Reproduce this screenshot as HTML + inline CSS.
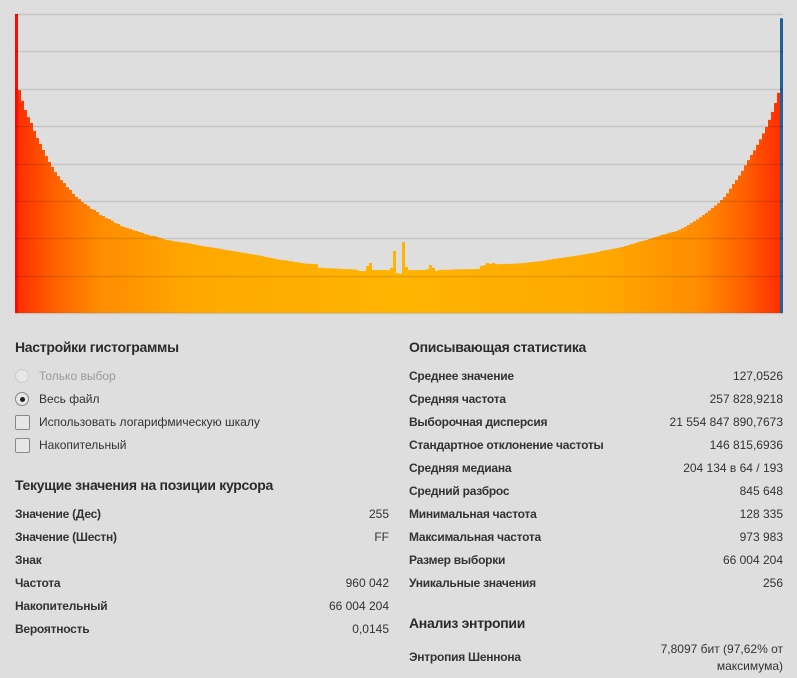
<!DOCTYPE html>
<html><head><meta charset="utf-8">
<style>
body{margin:0;width:797px;height:678px;background:#dedede;font-family:"Liberation Sans","Noto Sans CJK SC",sans-serif;color:#333;position:relative;overflow:hidden}
.t{position:absolute;white-space:nowrap;font-size:12px;line-height:14px}
.h{position:absolute;white-space:nowrap;font-size:14px;font-weight:bold;line-height:16px;color:#2b2b2b;letter-spacing:-0.3px}
.b{font-weight:bold;letter-spacing:-0.25px}
.r{text-align:right}
.radio{position:absolute;width:14px;height:14px;border:1px solid #888;border-radius:50%;box-sizing:border-box;background:#e6e6e6}
.chk{position:absolute;width:15px;height:15px;border:1px solid #888;border-radius:2px;box-sizing:border-box;background:#e6e6e6}
</style></head><body>
<svg id="chart" width="797" height="320" style="position:absolute;left:0;top:0">
<defs><linearGradient id="g" gradientUnits="userSpaceOnUse" x1="15" y1="0" x2="783" y2="0">
<stop offset="0" stop-color="#ff2a00"/><stop offset="0.05" stop-color="#ff6000"/><stop offset="0.11" stop-color="#ff8c00"/><stop offset="0.23" stop-color="#ffa800"/><stop offset="0.5" stop-color="#ffb400"/><stop offset="0.77" stop-color="#ffa800"/><stop offset="0.89" stop-color="#ff8c00"/><stop offset="0.95" stop-color="#ff6000"/><stop offset="1" stop-color="#ff2a00"/></linearGradient></defs>
<g id="bars"></g><g id="grid"></g>
</svg>
<script>
const counts=[974,726,691,661,638,619,593,570,551,531,511,492,476,459,446,433,423,410,401,388,378,371,362,355,349,339,336,329,319,316,309,306,300,293,290,283,280,277,274,270,267,264,261,257,254,251,251,248,244,241,238,237,235,233,232,230,229,228,226,224,222,220,218,217,215,214,212,211,209,207,205,204,202,201,199,197,196,194,192,191,189,187,185,183,181,179,177,175,173,172,171,169,168,166,165,163,161,161,160,160,159,147,147,146,146,145,145,144,144,143,143,143,142,142,138,137,137,153,163,140,140,140,140,140,140,147,202,130,128.335,231,150,140,140,140,140,140,140,143,156,147,137,140,141,141,141,141,142,142,142,142,143,143,143,143,144,153,156,163,160,163,159,159,160,160,160,160,161,161,162,163,164,165,166,167,168,169,171,173,174,176,177,179,180,181,183,184,186,187,189,190,192,194,195,197,199,202,204,205,207,209,211,213,215,218,221,224,227,230,233,235,238,241,244,247,250,254,256,259,262,264,267,271,276,281,287,293,299,305,312,319,326,334,342,350,358,368,378,390,405,420,433,448,463,481,498,515,530,548,566,585,606,629,655,684,717,960.042];
const gridTicks=[0,1,2,3,4,5,6,7,8];
const maxCount=973.983;
const X0=15,BW=3,YB=313,H=299;
function xPos(i){return X0+i*BW}
function yPos(v){return YB-v/maxCount*H}
const NS="http://www.w3.org/2000/svg";
const bars=document.getElementById('bars');
counts.forEach((v,i)=>{const r=document.createElementNS(NS,'rect');
r.setAttribute('x',xPos(i));r.setAttribute('y',yPos(v));r.setAttribute('width',BW);r.setAttribute('height',YB-yPos(v));
r.setAttribute('fill',i===0?'#ff0a00':(i===counts.length-1?'#1f5f9a':'url(#g)'));


bars.appendChild(r);});
const grid=document.getElementById('grid');
gridTicks.forEach(k=>{const y=Math.round(14+k*H/8)+0.5;const l=document.createElementNS(NS,'line');
l.setAttribute('x1',15);l.setAttribute('x2',783);l.setAttribute('y1',y);l.setAttribute('y2',y);
l.setAttribute('stroke','rgba(0,0,0,0.11)');l.setAttribute('stroke-width',1.5);


grid.appendChild(l);});
</script>

<div class="h" style="left:15px;top:339px">Настройки гистограммы</div>
<div class="radio" style="left:15px;top:369px;border-color:#ccc"></div>
<div class="t" style="left:39px;top:369px;color:#9a9a9a">Только выбор</div>
<div class="radio" style="left:15px;top:392px"><div style="position:absolute;left:3.5px;top:3.5px;width:5px;height:5px;border-radius:50%;background:#222"></div></div>
<div class="t" style="left:39px;top:392px">Весь файл</div>
<div class="chk" style="left:15px;top:415px"></div>
<div class="t" style="left:39px;top:415px">Использовать логарифмическую шкалу</div>
<div class="chk" style="left:15px;top:438px"></div>
<div class="t" style="left:39px;top:438px">Накопительный</div>

<div class="h" style="left:15px;top:477px">Текущие значения на позиции курсора</div>
<div>
<div class="t b" style="left:15px;top:507px">Значение (Дес)</div><div class="t r" style="right:408px;top:507px">255</div>
<div class="t b" style="left:15px;top:530px">Значение (Шестн)</div><div class="t r" style="right:408px;top:530px">FF</div>
<div class="t b" style="left:15px;top:553px">Знак</div>
<div class="t b" style="left:15px;top:576px">Частота</div><div class="t r" style="right:408px;top:576px">960 042</div>
<div class="t b" style="left:15px;top:599px">Накопительный</div><div class="t r" style="right:408px;top:599px">66 004 204</div>
<div class="t b" style="left:15px;top:622px">Вероятность</div><div class="t r" style="right:408px;top:622px">0,0145</div>
</div>

<div class="h" style="left:409px;top:339px">Описывающая статистика</div>
<div>
<div class="t b" style="left:409px;top:369px">Среднее значение</div><div class="t r" style="right:14px;top:369px">127,0526</div>
<div class="t b" style="left:409px;top:392px">Средняя частота</div><div class="t r" style="right:14px;top:392px">257 828,9218</div>
<div class="t b" style="left:409px;top:415px">Выборочная дисперсия</div><div class="t r" style="right:14px;top:415px">21 554 847 890,7673</div>
<div class="t b" style="left:409px;top:438px">Стандартное отклонение частоты</div><div class="t r" style="right:14px;top:438px">146 815,6936</div>
<div class="t b" style="left:409px;top:461px">Средняя медиана</div><div class="t r" style="right:14px;top:461px">204 134 в 64 / 193</div>
<div class="t b" style="left:409px;top:484px">Средний разброс</div><div class="t r" style="right:14px;top:484px">845 648</div>
<div class="t b" style="left:409px;top:507px">Минимальная частота</div><div class="t r" style="right:14px;top:507px">128 335</div>
<div class="t b" style="left:409px;top:530px">Максимальная частота</div><div class="t r" style="right:14px;top:530px">973 983</div>
<div class="t b" style="left:409px;top:553px">Размер выборки</div><div class="t r" style="right:14px;top:553px">66 004 204</div>
<div class="t b" style="left:409px;top:576px">Уникальные значения</div><div class="t r" style="right:14px;top:576px">256</div>
</div>
<div class="h" style="left:409px;top:615px">Анализ энтропии</div>
<div class="t b" style="left:409px;top:650px">Энтропия Шеннона</div>
<div class="t r" style="right:14px;top:641px;line-height:17px">7,8097 бит (97,62% от<br>максимума)</div>
</body></html>
